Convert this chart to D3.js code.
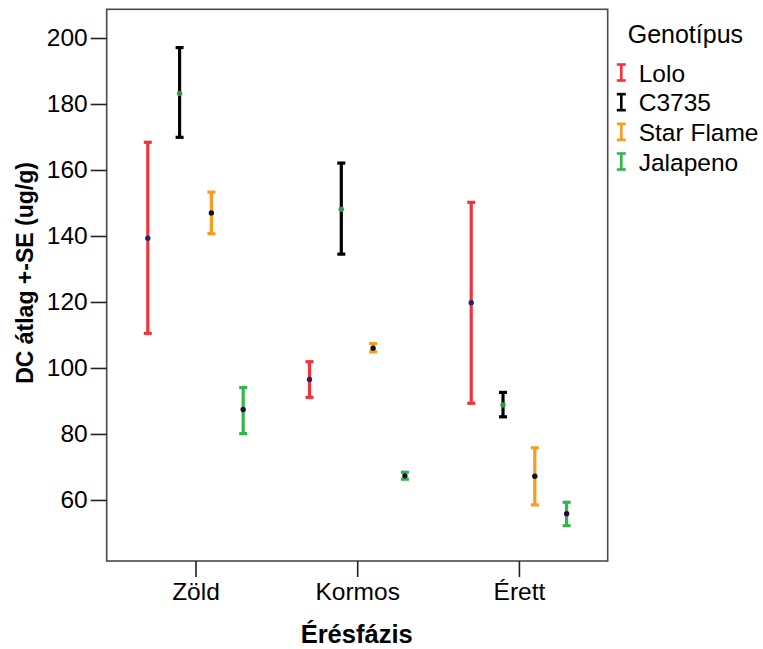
<!DOCTYPE html>
<html><head><meta charset="utf-8">
<script src="https://cdn.jsdelivr.net/npm/d3@7"></script>
<style>body{margin:0;background:#fff}svg{display:block}text{font-family:"Liberation Sans",Arial,sans-serif}</style>
</head><body><svg id="c" width="763" height="649"></svg>
<script>
const categories = ["Zöld", "Kormos", "Érett"];
const seriesNames = ["Lolo", "C3735", "Star Flame", "Jalapeno"];
const meanLolo  = [139.3, 96.5, 119.8];
const meanC3735 = [183.2, 148.1, 88.8];
const meanStar  = [147.0, 106.0, 67.2];
const meanJal   = [87.4, 67.3, 55.8];
const lowLolo   = [110.5, 91.1, 89.3];
const lowC3735  = [169.9, 134.5, 85.2];
const lowStar   = [140.7, 104.9, 58.5];
const lowJal    = [80.1, 66.3, 52.2];
const highLolo  = [168.4, 101.9, 150.2];
const highC3735 = [197.1, 162.1, 92.6];
const highStar  = [153.3, 107.4, 75.8];
const highJal   = [94.1, 68.4, 59.3];
const yTicks = [60, 80, 100, 120, 140, 160, 180, 200];
const colors = ["#f2333d", "#000000", "#fa9a1e", "#33b54a"];
const dotColors = ["#1c2a66", "#2f9a40", "#111111", "#2a0a30"];

const means = [meanLolo, meanC3735, meanStar, meanJal];
const lows = [lowLolo, lowC3735, lowStar, lowJal];
const highs = [highLolo, highC3735, highStar, highJal];
const rows = [];
seriesNames.forEach((s, si) => categories.forEach((c, ci) => rows.push({s, si, c, m: means[si][ci], lo: lows[si][ci], hi: highs[si][ci]})));

const svg = d3.select("#c");
const L = 106.7, R = 607.7, T = 9.3, B = 561;
const x = d3.scalePoint().domain(categories).range([L, R]).padding(0.549);
const xs = d3.scaleBand().domain(seriesNames).range([-63.6, 63.6]);
const y = d3.scaleLinear().domain([41.5, 208.7]).range([B, T]);

// frame
svg.append("rect").attr("x", L).attr("y", T).attr("width", R - L).attr("height", B - T)
  .attr("fill", "none").attr("stroke", "#4a4a4a").attr("stroke-width", 1.6);

// y axis
const ya = svg.append("g").attr("transform", `translate(${L},0)`)
  .call(d3.axisLeft(y).tickValues(yTicks).tickSize(16).tickPadding(3).tickSizeOuter(0));
ya.select(".domain").remove();
ya.selectAll("line").attr("stroke", "#222").attr("stroke-width", 1.6);
ya.selectAll("text").attr("font-size", "24.5px").attr("fill", "#000").attr("font-family", "Liberation Sans, Arial, sans-serif");

// x axis
const xa = svg.append("g").attr("transform", `translate(0,${B})`)
  .call(d3.axisBottom(x).tickSize(16).tickPadding(6).tickSizeOuter(0));
xa.select(".domain").remove();
xa.selectAll("line").attr("stroke", "#222").attr("stroke-width", 1.6);
xa.selectAll("text").attr("font-size", "24.5px").attr("fill", "#000").attr("font-family", "Liberation Sans, Arial, sans-serif");

// titles
svg.append("text").attr("transform", "translate(33,273) rotate(-90)").attr("text-anchor", "middle")
  .attr("font-size", "23px").attr("font-weight", "bold").text("DC átlag +-SE (ug/g)");
svg.append("text").attr("x", 356.7).attr("y", 642.7).attr("text-anchor", "middle")
  .attr("font-size", "25.5px").attr("font-weight", "bold").text("Érésfázis");

// error bars
const g = svg.append("g");
const cx = d => x(d.c) + xs(d.s) + xs.bandwidth() / 2;
const bars = g.selectAll("g.eb").data(rows).join("g").attr("class", "eb");
bars.append("line").attr("x1", cx).attr("x2", cx).attr("y1", d => y(d.lo)).attr("y2", d => y(d.hi))
  .attr("stroke", d => colors[d.si]).attr("stroke-width", 3.2);
bars.append("line").attr("x1", d => cx(d) - 4).attr("x2", d => cx(d) + 4).attr("y1", d => y(d.hi)).attr("y2", d => y(d.hi))
  .attr("stroke", d => colors[d.si]).attr("stroke-width", 3.2);
bars.append("line").attr("x1", d => cx(d) - 4).attr("x2", d => cx(d) + 4).attr("y1", d => y(d.lo)).attr("y2", d => y(d.lo))
  .attr("stroke", d => colors[d.si]).attr("stroke-width", 3.2);
bars.append("circle").attr("cx", cx).attr("cy", d => y(d.m)).attr("r", 2.7)
  .attr("fill", d => dotColors[d.si]);

// legend
const lg = svg.append("g");
lg.append("text").attr("x", 627.7).attr("y", 43).attr("font-size", "25px").text("Genotípus");
const ly = d3.scalePoint().domain(seriesNames).range([81.5, 170.5]);
seriesNames.forEach((s, i) => {
  const yb = ly(s), cxl = 621.3;
  const it = lg.append("g");
  it.append("line").attr("x1", cxl).attr("x2", cxl).attr("y1", yb - 17).attr("y2", yb - 1).attr("stroke", colors[i]).attr("stroke-width", 2.6);
  it.append("line").attr("x1", cxl - 4.5).attr("x2", cxl + 4.5).attr("y1", yb - 17).attr("y2", yb - 17).attr("stroke", colors[i]).attr("stroke-width", 2.6);
  it.append("line").attr("x1", cxl - 4.5).attr("x2", cxl + 4.5).attr("y1", yb - 1).attr("y2", yb - 1).attr("stroke", colors[i]).attr("stroke-width", 2.6);
  it.append("text").attr("x", 638.7).attr("y", yb).attr("font-size", "24.5px").text(s);
});
</script></body></html>
